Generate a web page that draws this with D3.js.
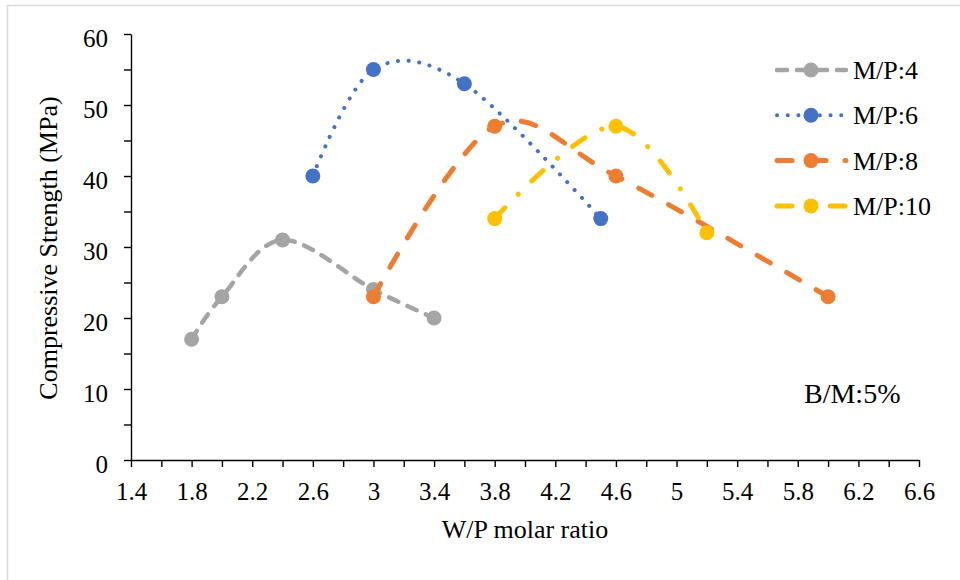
<!DOCTYPE html>
<html>
<head>
<meta charset="utf-8">
<script src="https://cdn.jsdelivr.net/npm/d3@7"></script>
<style>
  body { margin: 0; background: #fff; }
  svg text { font-family: "Liberation Serif", "Times New Roman", serif; fill: #000; }
</style>
</head>
<body>
<div id="chart"></div>
<script>
(function() {
  'use strict'

  // Data //
  var seriesNames = ["M/P:4", "M/P:6", "M/P:8", "M/P:10"]
  var mp4x = [1.8, 2.0, 2.4, 3.0, 3.4]
  var mp4y = [17, 23, 31, 24, 20]
  var mp6x = [2.6, 3.0, 3.6, 4.5]
  var mp6y = [40, 55, 53, 34]
  var mp8x = [3.0, 3.8, 4.6, 6.0]
  var mp8y = [23, 47, 40, 23]
  var mp10x = [3.8, 4.6, 5.2]
  var mp10y = [34, 47, 32]
  var xTicks = [1.4, 1.8, 2.2, 2.6, 3, 3.4, 3.8, 4.2, 4.6, 5, 5.4, 5.8, 6.2, 6.6]
  var yTicks = [0, 10, 20, 30, 40, 50, 60]

  var colors = ["#A5A5A5", "#4472C4", "#ED7D31", "#FFC000"]
  var dashes = ["10,10", "0.1,10.6", "15,19", "15,19,0.1,19"]
  var widths = [4.5, 4, 5, 5]

  var series = [[mp4x, mp4y], [mp6x, mp6y], [mp8x, mp8y], [mp10x, mp10y]].map(function(s, i) {
    return { name: seriesNames[i], pts: s[0].map(function(x, j) { return { x: x, y: s[1][j] } }) }
  })

  // SVG Setup //
  var width = 960, height = 580
  var svg = d3.select("#chart").append("svg")
    .attr("width", width)
    .attr("height", height)

  svg.append("rect")
    .attr("x", 7.5).attr("y", 5.5)
    .attr("width", 1000).attr("height", 1000)
    .attr("fill", "#fff")
    .attr("stroke", "#d9d9d9")
    .attr("stroke-width", 1.5)

  var x = d3.scaleLinear().domain([1.4, 6.6]).range([131, 919])
  var y = d3.scaleLinear().domain([0, 60]).range([460, 34])

  // Axes //
  svg.append("g")
    .attr("transform", "translate(0," + y(0) + ")")
    .call(d3.axisBottom(x).tickValues(d3.range(1.4, 6.61, 0.2)).tickSize(7).tickSizeOuter(0).tickFormat(""))
  var xLab = svg.append("g")
    .attr("transform", "translate(0," + y(0) + ")")
    .call(d3.axisBottom(x).tickValues(xTicks).tickSize(0).tickFormat(d3.format("")))
  xLab.select(".domain").remove()

  svg.append("g")
    .attr("transform", "translate(" + x(1.4) + ",0)")
    .call(d3.axisLeft(y).tickValues(d3.range(0, 61, 5)).tickSize(7).tickSizeOuter(0).tickFormat(""))
  var yLab = svg.append("g")
    .attr("transform", "translate(" + x(1.4) + ",0)")
    .call(d3.axisLeft(y).tickValues(yTicks).tickSize(0).tickPadding(23).tickFormat(d3.format("")))
  yLab.select(".domain").remove()

  svg.selectAll("g").attr("font-family", null).attr("font-size", null)
  svg.selectAll(".domain, .tick line").attr("stroke", "#000").attr("stroke-width", 1.4)
  svg.selectAll(".tick text")
    .style("font-family", "'Liberation Serif', 'Times New Roman', serif")
    .style("font-size", "25px")
    .attr("fill", "#000")
  xLab.selectAll(".tick text").attr("dy", 0).attr("y", 40)
  yLab.selectAll(".tick text").attr("dy", "0.48em")

  svg.append("text")
    .attr("x", x(4.0)).attr("y", 538)
    .attr("text-anchor", "middle")
    .style("font-size", "26px")
    .text("W/P molar ratio")

  svg.append("text")
    .attr("transform", "translate(57," + 248 + ") rotate(-90)")
    .attr("text-anchor", "middle")
    .style("font-size", "26px")
    .text("Compressive Strength (MPa)")

  // Lines //
  var line = d3.line()
    .curve(d3.curveCardinal.tension(0))
    .x(function(d) { return x(d.x) })
    .y(function(d) { return y(d.y) })

  series.forEach(function(s, i) {
    svg.append("path")
      .datum(s.pts)
      .attr("d", line)
      .attr("fill", "none")
      .attr("stroke", colors[i])
      .attr("stroke-width", widths[i])
      .attr("stroke-dasharray", dashes[i])
      .attr("stroke-linecap", "round")

    svg.selectAll(".dot" + i)
      .data(s.pts)
      .enter().append("circle")
      .attr("class", "dot" + i)
      .attr("cx", function(d) { return x(d.x) })
      .attr("cy", function(d) { return y(d.y) })
      .attr("r", 7.5)
      .attr("fill", colors[i])
  })

  // Legend //
  var legend = svg.append("g")
  series.forEach(function(s, i) {
    var ly = 70 + i * 45.3
    legend.append("line")
      .attr("x1", 777).attr("x2", 846)
      .attr("y1", ly).attr("y2", ly)
      .attr("stroke", colors[i])
      .attr("stroke-width", widths[i])
      .attr("stroke-dasharray", dashes[i])
      .attr("stroke-linecap", "round")
    legend.append("circle")
      .attr("cx", 811).attr("cy", ly).attr("r", 7.5)
      .attr("fill", colors[i])
    legend.append("text")
      .attr("x", 853).attr("y", ly)
      .attr("dy", "0.35em")
      .style("font-size", "26px")
      .text(s.name)
  })

  svg.append("text")
    .attr("x", 804).attr("y", 393)
    .attr("dy", "0.35em")
    .style("font-size", "28px")
    .text("B/M:5%")
})()
</script>
</body>
</html>
